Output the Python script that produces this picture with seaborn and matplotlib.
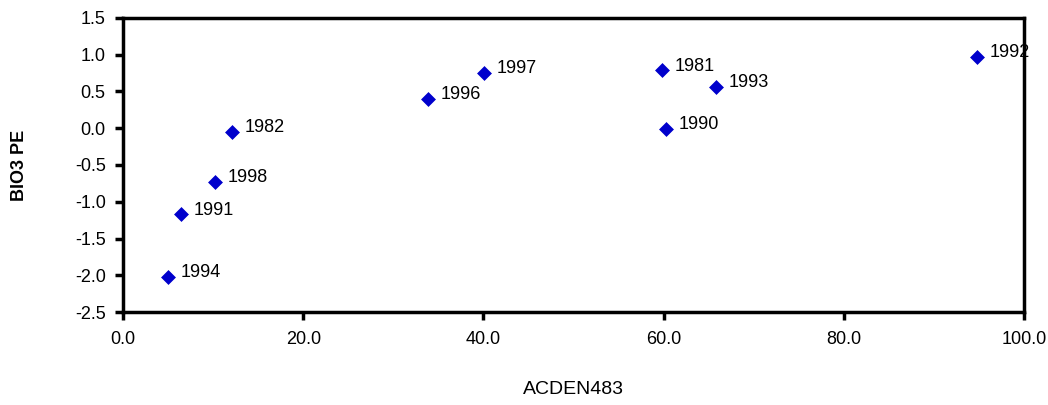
import matplotlib
matplotlib.use('Agg')
import matplotlib.pyplot as plt
import seaborn as sns
import pandas as pd

years = ['1994', '1991', '1998', '1982', '1996', '1997', '1981', '1993', '1990', '1992']
acden483 = [5.0, 6.4, 10.2, 12.1, 33.9, 40.1, 59.8, 65.8, 60.3, 94.8]
score = [-2.02, -1.17, -0.73, -0.05, 0.40, 0.75, 0.79, 0.56, -0.01, 0.97]
x_ticks = [0, 20, 40, 60, 80, 100]
y_ticks = [-2.5, -2.0, -1.5, -1.0, -0.5, 0.0, 0.5, 1.0, 1.5]

df = pd.DataFrame({'year': years, 'ACDEN483': acden483, 'score': score})

sns.set_theme(style="ticks")
plt.rcParams['font.family'] = ['Liberation Sans', 'DejaVu Sans']

fig = plt.figure(figsize=(10.48, 4.05), dpi=100)
ax = fig.add_axes([0.1174, 0.2296, 0.8597, 0.726])

sns.scatterplot(data=df, x='ACDEN483', y='score', marker='D', s=50,
                color='#0000CC', edgecolor='#0000CC', linewidth=0.5, ax=ax)

# year labels next to each point
for _, r in df.iterrows():
    ax.annotate(r['year'], (r['ACDEN483'], r['score']), xytext=(9, 3),
                textcoords='offset points', fontsize=13, color='black',
                va='center', ha='left', annotation_clip=False)

ax.set_xlim(0, 100)
ax.set_ylim(-2.5, 1.5)
ax.set_xticks(x_ticks)
ax.set_xticklabels([f'{t:.1f}' for t in x_ticks])
ax.set_yticks(y_ticks)
ax.set_yticklabels([f'{t:.1f}' for t in y_ticks])
ax.tick_params(axis='both', labelsize=13, width=2.5, length=5.5, color='black',
               direction='out', labelcolor='black')
ax.tick_params(axis='x', pad=8)
ax.tick_params(axis='y', pad=7)

for sp in ax.spines.values():
    sp.set_visible(True)
    sp.set_linewidth(2.5)
    sp.set_color('black')

ax.set_xlabel('ACDEN483', fontsize=14, color='black', labelpad=24)
ax.set_ylabel('BIO3 PE', fontsize=13, fontweight='bold', color='black', labelpad=34)
ax.grid(False)

fig.savefig('out.png', dpi=100)
